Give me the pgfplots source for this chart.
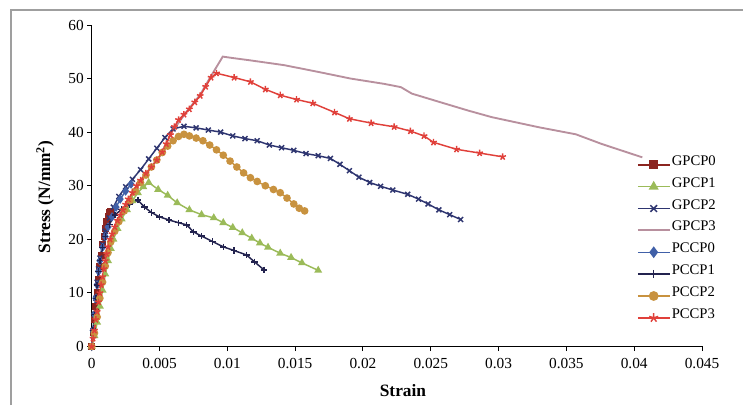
\documentclass[border=0pt]{standalone}
\usepackage{pgfplots}
\pgfplotsset{compat=1.18}
\usepackage{fontspec}
\setmainfont{Liberation Serif}
\definecolor{cGPCPzero}{HTML}{8B2520}
\definecolor{cGPCPone}{HTML}{9BBB59}
\definecolor{cGPCPtwo}{HTML}{2E3570}
\definecolor{cGPCPthree}{HTML}{B8909E}
\definecolor{cPCCPzero}{HTML}{4060A8}
\definecolor{cPCCPone}{HTML}{23234F}
\definecolor{cPCCPtwo}{HTML}{C8923F}
\definecolor{cPCCPthree}{HTML}{E0403A}
\begin{document}
\begin{tikzpicture}
\useasboundingbox (0,0) rectangle (557.25pt,303.75pt);
\draw[gray!75, line width=1.4pt] (8.25pt,0) -- (8.25pt,296.25pt) -- (557.25pt,296.25pt);
\begin{axis}[
  at={(68.8pt,43.9pt)}, anchor=south west,
  scale only axis, width=457.7pt, height=241.1pt,
  xmin=0, xmax=0.045, ymin=0, ymax=60,
  scaled x ticks=false, scaled y ticks=false,
  axis x line*=bottom, axis y line*=left,
  axis line style={line width=0.9pt, black},
  tick align=outside, major tick length=3.5pt,
  tick style={black, line width=0.7pt},
  xtick={0,0.005,0.01,0.015,0.02,0.025,0.03,0.035,0.04,0.045},
  xticklabels={0,0.005,0.01,0.015,0.02,0.025,0.03,0.035,0.04,0.045},
  ytick={0,10,20,30,40,50,60},
  yticklabels={0,10,20,30,40,50,60},
  ticklabel style={font=\fontsize{11.5}{13}\selectfont},
  xticklabel style={yshift=-2pt},
  yticklabel style={xshift=1pt},
  xlabel={\textbf{Strain}},
  ylabel={\textbf{Stress (N/mm\textsuperscript{2})}},
  xlabel style={font=\fontsize{13}{15}\selectfont, at={(axis description cs:0.51,-0.138)}, anchor=center},
  ylabel style={font=\fontsize{13}{15}\selectfont, at={(axis description cs:-0.0765,0.465)}, anchor=center},
  clip=false,
  every axis plot/.append style={line width=1.1pt, mark size=2pt},
  legend cell align=left,
  legend style={draw=none, fill=none, at={(axis description cs:0.893,0.6)}, anchor=north west,
    font=\fontsize{11}{12}\selectfont, inner sep=0pt, row sep=0pt,
    nodes={inner ysep=0pt, inner xsep=1pt, text height=8.6pt, text depth=7.8pt}},
  legend image code/.code={\draw[mark repeat=2,mark phase=2,mark options={scale=1.35}] plot coordinates {(0pt,0pt) (11.85pt,0pt) (23.7pt,0pt)};},
]
\addplot[color=cGPCPzero, mark=square*] table {
0 0
0.0001 2.5
0.0002 5
0.0003 7.5
0.0004 10
0.0005 12.5
0.0006 15
0.0007 17
0.0008 19
0.0009 20.5
0.001 22
0.0011 23.3
0.0012 24.3
0.0013 25.0
0.0014 25.3
};
\addlegendentry{GPCP0}
\addplot[color=cGPCPone, mark=triangle*, mark size=2.4pt] table {
0 0
0.0002 2
0.0004 4.5
0.0006 7.5
0.0008 10.5
0.001 13.5
0.0012 16
0.0014 18.3
0.0016 20
0.0019 22
0.0022 23.8
0.0026 25.5
0.003 27.2
0.0034 28.7
0.0038 29.8
0.0042 30.6
0.0049 29.3
0.0056 28.2
0.0063 26.8
0.0072 25.5
0.0081 24.6
0.009 24.0
0.0097 23.1
0.0104 22.2
0.0111 21.2
0.0118 20.2
0.0124 19.3
0.013 18.5
0.0139 17.4
0.0147 16.6
0.0155 15.6
0.0167 14.2
};
\addlegendentry{GPCP1}
\addplot[color=cGPCPtwo, mark=x, mark size=2.6pt] table {
0 0
0.0001 3
0.0002 6
0.0003 9
0.0004 12
0.0005 14.5
0.0006 16.5
0.0008 19
0.001 21.5
0.0013 24
0.0016 26
0.002 28
0.0025 29.8
0.003 31.2
0.0036 33
0.0042 35
0.0048 37
0.0054 39
0.006 40.6
0.0068 41.1
0.0077 40.8
0.0086 40.4
0.0095 40.0
0.0104 39.3
0.0113 38.8
0.0122 38.4
0.0131 37.6
0.014 37.1
0.0149 36.6
0.0158 36.0
0.0167 35.6
0.0176 35.1
0.0183 34.0
0.019 32.8
0.0197 31.6
0.0205 30.6
0.0213 29.9
0.0222 29.2
0.0233 28.4
0.0241 27.5
0.0248 26.6
0.0256 25.5
0.0264 24.6
0.0272 23.7
};
\addlegendentry{GPCP2}
\addplot[color=cGPCPthree, line width=1.4pt, mark=none] table {
0 0
0.0006 10
0.00135 20
0.0023 25.5
0.0038 31.7
0.005 35.4
0.0059 40
0.0069 43.5
0.008 47
0.0088 50.5
0.0094 53
0.00966 54.1
0.0105 53.8
0.0117 53.4
0.0142 52.5
0.0166 51.3
0.0191 50.0
0.0216 49.0
0.0228 48.4
0.0236 47.2
0.0253 45.9
0.0278 44.0
0.0295 42.8
0.033 40.9
0.0357 39.6
0.0376 37.8
0.0406 35.3
};
\addlegendentry{GPCP3}
\addplot[color=cPCCPzero, mark=diamond*, mark size=2.6pt] table {
0 0
0.0001 3
0.0002 6
0.0003 9
0.0004 11.5
0.0005 14
0.0006 16
0.0008 18.5
0.001 20.5
0.0012 22.3
0.0015 24.2
0.0018 26
0.0021 27.5
0.0025 29
0.0029 30.3
};
\addlegendentry{PCCP0}
\addplot[color=cPCCPone, mark=+, mark size=2.4pt] table {
0 0
0.0001 3
0.0002 6
0.0003 9
0.0004 11.5
0.0005 14
0.0006 16
0.0008 18.5
0.001 20.5
0.0013 22.8
0.0017 24.5
0.0022 25.6
0.0028 26.5
0.0034 27.3
0.0039 26.0
0.0044 25.0
0.005 24.2
0.0057 23.6
0.0064 23.1
0.007 22.7
0.0075 21.4
0.0081 20.6
0.0089 19.6
0.0097 18.6
0.0105 17.9
0.0114 17.1
0.012 15.8
0.0127 14.3
};
\addlegendentry{PCCP1}
\addplot[color=cPCCPtwo, mark=*, mark size=2.3pt] table {
0 0
0.0002 2.5
0.0004 5.5
0.0006 9
0.0008 12
0.001 15
0.0012 17.5
0.0014 19.5
0.0017 21.5
0.002 23.3
0.0024 25.3
0.0028 27.2
0.0032 29
0.0036 30.6
0.004 32
0.0044 33.5
0.0048 34.8
0.0052 36.2
0.0056 37.4
0.006 38.4
0.0064 39.2
0.0068 39.6
0.0072 39.3
0.0077 38.9
0.0082 38.4
0.0087 37.6
0.0092 36.7
0.0097 35.7
0.0102 34.6
0.0107 33.5
0.0112 32.4
0.0117 31.5
0.0122 30.8
0.0128 30.0
0.0134 29.3
0.0139 28.7
0.0144 27.7
0.0149 26.6
0.0153 25.8
0.0157 25.3
};
\addlegendentry{PCCP2}
\addplot[color=cPCCPthree, mark=star, mark size=2.6pt] table {
0 0
0.0001 1.5
0.0002 3
0.0003 5
0.0004 6.5
0.0005 8.3
0.0006 10
0.0007 11.5
0.0008 13
0.0009 14.5
0.001 16
0.0011 17.3
0.0012 18.6
0.00135 20
0.0015 21
0.0017 22.3
0.0019 23.5
0.0021 24.5
0.0023 25.5
0.0025 26.5
0.0027 27.5
0.003 28.7
0.0033 30
0.0036 31
0.004 32.3
0.0044 33.5
0.0048 34.8
0.0052 36.3
0.0055 37.8
0.0058 39.5
0.0061 41
0.0064 42.3
0.0068 43.3
0.0072 44.3
0.0076 45.6
0.008 46.8
0.0084 48.5
0.0088 50.2
0.0092 51.0
0.0105 50.2
0.0117 49.4
0.0128 48.0
0.0139 46.9
0.0151 46.1
0.0163 45.4
0.0179 43.7
0.019 42.5
0.0206 41.7
0.0223 41.0
0.0235 40.2
0.0245 39.3
0.0252 38.1
0.0269 36.8
0.0286 36.1
0.0303 35.4
};
\addlegendentry{PCCP3}
\end{axis}
\end{tikzpicture}
\end{document}
